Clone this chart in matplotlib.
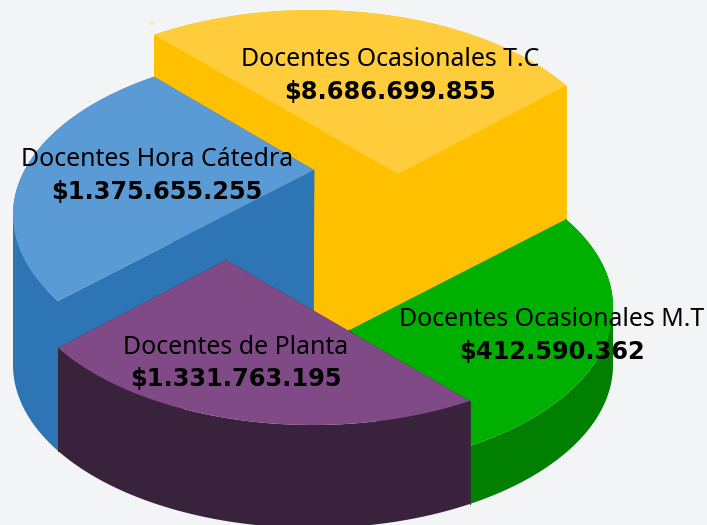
import matplotlib
matplotlib.use('Agg')
import matplotlib.pyplot as plt
from matplotlib.patches import Polygon
import numpy as np

labels = ['Docentes Ocasionales T.C', 'Docentes Hora Cátedra',
          'Docentes Ocasionales M.T', 'Docentes de Planta']
values = [8686699855, 1375655255, 412590362, 1331763195]

# geometry of the drawing, in pixels
CX, BASE_Y, RX, RY = 313, 365, 300, 163
starts = [32.5, 122, 301.5, 211.8]
spans = [89.5, 89.8, 91, 89.7]
heights = [192, 150, 58, 103]
apexes = [(398, 174), (314, 170), (350, 330), (226, 260)]
label_pos = [(390, 60), (157, 160), (552, 320), (236, 347)]
top_colors = ['#FFCD3C', '#5B9BD5', '#00B000', '#7F4A86']
wall_colors = ['#FFC000', '#2E75B6', '#007F00', '#39223C']
BG = '#F3F4F6'


def arc(start, span, cy):
    t = np.radians(np.linspace(start, start + span, 120))
    return np.column_stack([CX + RX * np.cos(t), cy - RY * np.sin(t)])


def money(v):
    return '$' + f'{v:,}'.replace(',', '.')


def wall_pieces(start, span, cy):
    # cut the arc where it turns back in x, so each wall piece is a plain polygon
    edges = [start] + [a for a in (180, 360) if start < a < start + span] + [start + span]
    out = []
    for a, b in zip(edges[:-1], edges[1:]):
        out.append(np.vstack([arc(a, b - a, cy), arc(a, b - a, BASE_Y)[::-1]]))
    return out


fig = plt.figure(figsize=(7.07, 5.25), dpi=100, facecolor=BG)
ax = fig.add_axes([0, 0, 1, 1])
ax.set_xlim(0, 707)
ax.set_ylim(525, 0)
ax.axis('off')

center = (CX, BASE_Y)
for i in range(4):
    cy = BASE_Y - heights[i]
    top = arc(starts[i], spans[i], cy)
    bottom = arc(starts[i], spans[i], BASE_Y)
    z = i * 2 + 1
    col = wall_colors[i]
    # both inner walls run from the apex down to the base centre
    ax.add_patch(Polygon([apexes[i], center, bottom[0], top[0]], fc=col, ec='none', zorder=z))
    ax.add_patch(Polygon([apexes[i], center, bottom[-1], top[-1]], fc=col, ec='none', zorder=z))
    # thin lines hide the seams between the wall pieces
    ax.plot([apexes[i][0], CX], [apexes[i][1], BASE_Y], color=col, lw=0.6, zorder=z)
    for end in (0, -1):
        ax.plot([top[end][0], bottom[end][0]], [top[end][1], bottom[end][1]], color=col, lw=0.6, zorder=z)
    for piece in wall_pieces(starts[i], spans[i], cy):
        ax.add_patch(Polygon(piece, fc=col, ec='none', zorder=z))
    ax.add_patch(Polygon(np.vstack([top, [apexes[i]]]), fc=top_colors[i], ec='none', zorder=z + 1))

for i in range(4):
    x, y = label_pos[i]
    ax.text(x, y, labels[i], ha='center', va='center', fontsize=17.9,
            family='Noto Sans', color='black', zorder=20)
    ax.text(x, y + 32, money(values[i]), ha='center', va='center', fontsize=17.4,
            family='DejaVu Sans', weight='bold', color='black', zorder=20)

# small speck above the yellow slice
ax.plot([152], [23], 's', ms=3, color='#FDE3D8', mew=0)

fig.savefig('out.png', dpi=100, facecolor=BG)
